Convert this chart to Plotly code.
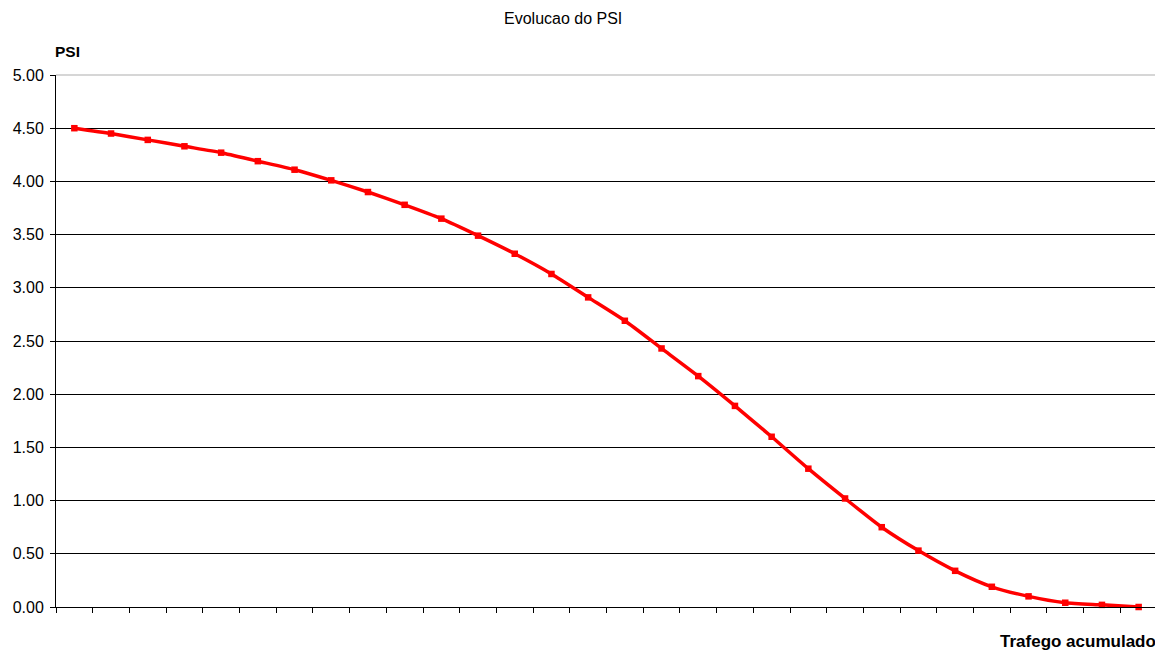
import plotly.graph_objects as go

categories = list(range(1, 31))
psi = [4.50, 4.45, 4.39, 4.33, 4.27, 4.19, 4.11, 4.01, 3.90, 3.78,
       3.65, 3.49, 3.32, 3.13, 2.91, 2.69, 2.43, 2.17, 1.89, 1.60,
       1.30, 1.02, 0.75, 0.53, 0.34, 0.19, 0.10, 0.04, 0.02, 0.00]
y_ticks = [0, 0.5, 1, 1.5, 2, 2.5, 3, 3.5, 4, 4.5, 5]

font = "Liberation Sans, Arial, sans-serif"

fig = go.Figure()
fig.add_trace(go.Scatter(
    x=categories, y=psi, mode="lines+markers",
    line=dict(color="#ff0000", width=3.5, shape="spline", smoothing=0.6),
    marker=dict(symbol="square", size=6.5, color="#ff0000"),
    showlegend=False, cliponaxis=False,
))

fig.update_layout(
    width=1155, height=644,
    margin=dict(l=48, r=6, t=67, b=45),
    paper_bgcolor="white", plot_bgcolor="white",
    font=dict(family=font, color="black"),
    xaxis=dict(range=[0.5, len(categories) + 0.5], tickmode="linear", tick0=0.5, dtick=1,
               showticklabels=False, ticks="outside", ticklen=5, tickcolor="black",
               showline=True, linecolor="black", linewidth=1, showgrid=False, zeroline=False),
    yaxis=dict(range=[0, 5], tickmode="array", tickvals=y_ticks,
               ticktext=[f"{v:.2f}" for v in y_ticks],
               ticks="outside", ticklen=5, tickcolor="black", ticklabelstandoff=3,
               tickfont=dict(size=16, family=font, color="black"),
               showline=True, linecolor="black", linewidth=1,
               showgrid=True, gridcolor="black", gridwidth=1, zeroline=False),
    shapes=[dict(type="line", xref="paper", yref="paper", x0=0, x1=1, y0=1, y1=1,
                 line=dict(color="#c8c8c8", width=1.5), layer="above")],
    annotations=[
        dict(text="Evolucao do PSI", xref="paper", yref="paper", x=0.4605, y=1.107,
             xanchor="center", yanchor="middle", showarrow=False,
             font=dict(size=16, family=font, color="black")),
        dict(text="<b>PSI</b>", xref="paper", yref="paper", x=-0.0027, y=1.044,
             xanchor="left", yanchor="middle", showarrow=False,
             font=dict(size=15.5, family=font, color="black")),
        dict(text="<b>Trafego acumulado</b>", xref="paper", yref="paper", x=1.001, y=-0.064,
             xanchor="right", yanchor="middle", showarrow=False,
             font=dict(size=17, family=font, color="black")),
    ],
)

fig.write_html("out.html")
